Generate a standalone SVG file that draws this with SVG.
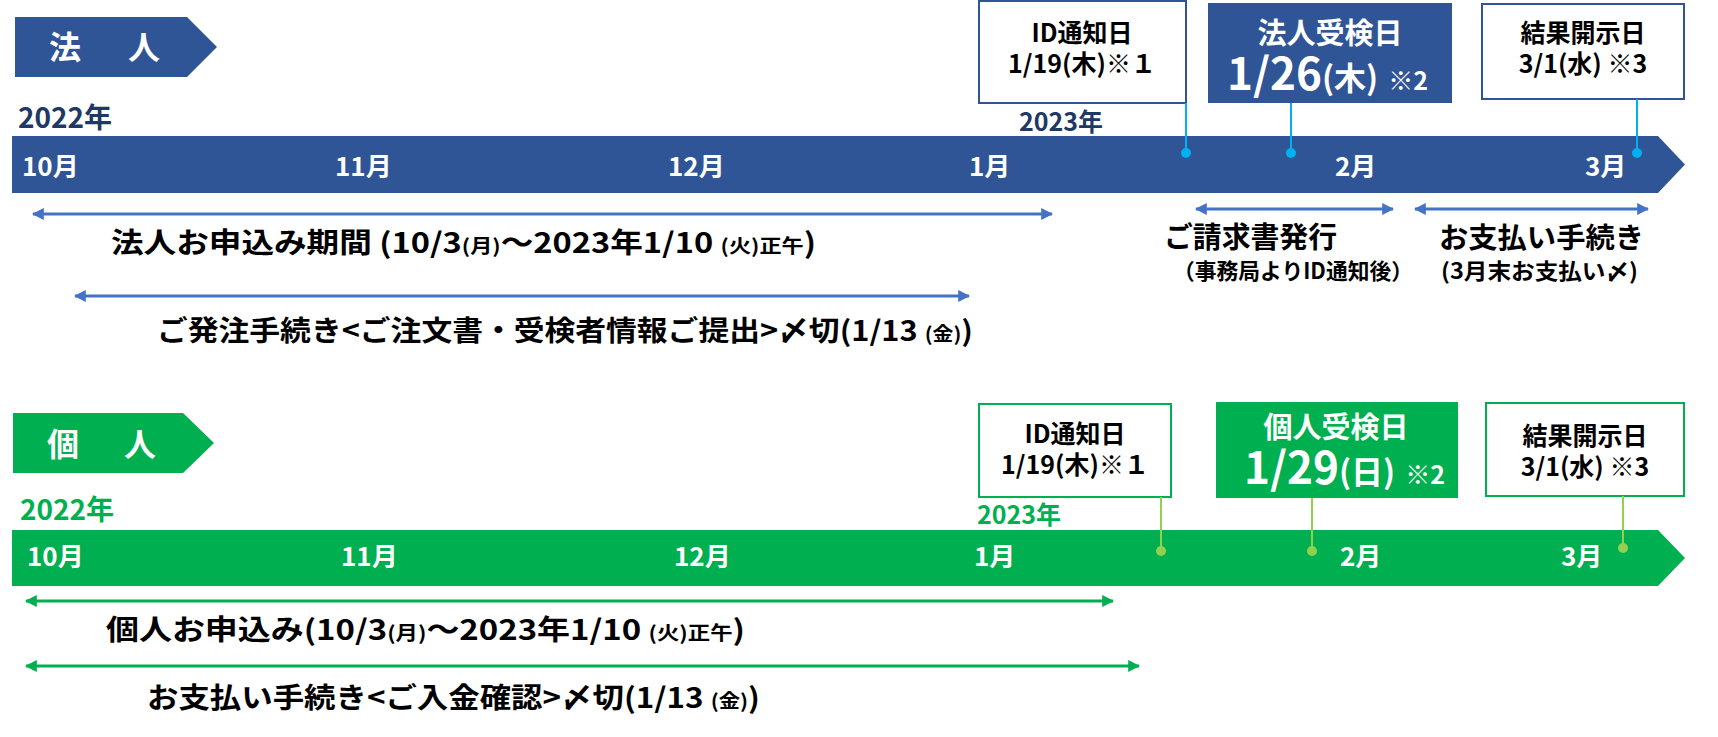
<svg xmlns="http://www.w3.org/2000/svg" width="1718" height="737" viewBox="0 0 1718 737">
<defs>
<marker id="ab" viewBox="0 0 10 10" refX="9" refY="5" markerWidth="4" markerHeight="4" orient="auto-start-reverse" markerUnits="strokeWidth"><path d="M0,0 L10,5 L0,10 z" fill="#4472C4"/></marker>
<marker id="ag" viewBox="0 0 10 10" refX="9" refY="5" markerWidth="4" markerHeight="4" orient="auto-start-reverse" markerUnits="strokeWidth"><path d="M0,0 L10,5 L0,10 z" fill="#00B050"/></marker>
<style>
text{font-family:"Noto Sans CJK JP","Liberation Sans",sans-serif;font-weight:bold}
.w{fill:#fff}
.k{fill:#000}
.m{fill:#fff;font-size:26px}
.blue{fill:#2F5597}
.green{fill:#00B050}
.bx{fill:#fff;stroke-width:2}
.lb{stroke:#4472C4;stroke-width:3;fill:none}
.lg{stroke:#00B050;stroke-width:3;fill:none}
.cb{stroke:#00B0F0;stroke-width:2}
.cg{stroke:#92D050;stroke-width:2}
.c{text-anchor:middle}
.bt{font-size:25px}
</style>
</defs>

<!-- 法人 section -->
<g id="houjin-banner">
<polygon class="blue" points="15,17 187,17 217,47 187,77 15,77"/>
<text class="w" x="49" y="59" font-size="32">法</text>
<text class="w" x="128" y="59" font-size="32">人</text>
</g>
<text x="18" y="128" font-size="28" fill="#203864">2022年</text>
<g id="houjin-bar">
<polygon class="blue" points="12,136 1658,136 1685,164.5 1658,193 12,193"/>
<text class="m" x="22" y="176">10月</text>
<text class="m" x="335" y="176">11月</text>
<text class="m" x="668" y="176">12月</text>
<text class="m" x="969" y="176">1月</text>
<text class="m" x="1335" y="176">2月</text>
<text class="m" x="1585" y="176">3月</text>
</g>
<text x="1019" y="131" font-size="25" fill="#203864">2023年</text>

<g id="houjin-id">
<rect class="bx" x="979" y="1" width="207" height="102" stroke="#2F5597"/>
<text class="k c bt" x="1082" y="42">ID通知日</text>
<text class="k c bt" x="1082" y="73">1/19(木)※１</text>
</g>
<g id="houjin-exam">
<rect class="blue" x="1208" y="3" width="244" height="100"/>
<text class="w c" x="1330" y="44" font-size="29">法人受検日</text>
<text class="w" x="1227" y="90"><tspan font-size="44">1/26</tspan><tspan font-size="32">(木)</tspan><tspan font-size="25" dx="10">※2</tspan></text>
</g>
<g id="houjin-result">
<rect class="bx" x="1482" y="4" width="202" height="95" stroke="#2F5597"/>
<text class="k c bt" x="1583" y="42">結果開示日</text>
<text class="k c bt" x="1583" y="73">3/1(水) ※3</text>
</g>

<g id="houjin-connectors">
<line class="cb" x1="1186" y1="103" x2="1186" y2="153"/>
<circle cx="1186" cy="153" r="5" fill="#00B0F0"/>
<line class="cb" x1="1291" y1="103" x2="1291" y2="153"/>
<circle cx="1291" cy="153" r="5" fill="#00B0F0"/>
<line class="cb" x1="1637" y1="99" x2="1637" y2="153"/>
<circle cx="1637" cy="153" r="5" fill="#00B0F0"/>
<line class="lb" x1="33" y1="214" x2="1052" y2="214" marker-start="url(#ab)" marker-end="url(#ab)"/>
<line class="lb" x1="75" y1="296" x2="969" y2="296" marker-start="url(#ab)" marker-end="url(#ab)"/>
<line class="lb" x1="1196" y1="209" x2="1393" y2="209" marker-start="url(#ab)" marker-end="url(#ab)"/>
<line class="lb" x1="1415" y1="209" x2="1648" y2="209" marker-start="url(#ab)" marker-end="url(#ab)"/>
</g>

<g id="houjin-labels">
<text class="k" x="111" y="253" font-size="28" textLength="705" lengthAdjust="spacingAndGlyphs">法人お申込み期間 (10/3<tspan font-size="19">(月)</tspan>～2023年1/10 <tspan font-size="19">(火)正午</tspan>)</text>
<text class="k" x="157" y="341" font-size="28" textLength="816" lengthAdjust="spacingAndGlyphs">ご発注手続き&lt;ご注文書・受検者情報ご提出&gt;〆切(1/13 <tspan font-size="19">(金)</tspan>)</text>
<text class="k" x="1164" y="248" font-size="29" textLength="173" lengthAdjust="spacingAndGlyphs">ご請求書発行</text>
<text class="k" x="1173" y="279" font-size="22" textLength="240" lengthAdjust="spacingAndGlyphs">（事務局よりID通知後）</text>
<text class="k" x="1439" y="248" font-size="28" textLength="205" lengthAdjust="spacingAndGlyphs">お支払い手続き</text>
<text class="k" x="1441" y="279" font-size="22" textLength="197" lengthAdjust="spacingAndGlyphs">(3月末お支払い〆)</text>
</g>

<!-- 個人 section -->
<g id="kojin-banner">
<polygon class="green" points="13,413 183,413 214,443 183,473 13,473"/>
<text class="w" x="47" y="456" font-size="32">個</text>
<text class="w" x="124" y="456" font-size="32">人</text>
</g>
<text x="20" y="520" font-size="28" fill="#00B050">2022年</text>
<g id="kojin-bar">
<polygon class="green" points="12,530 1658,530 1685,558 1658,586 12,586"/>
<text class="m" x="27" y="566">10月</text>
<text class="m" x="341" y="566">11月</text>
<text class="m" x="674" y="566">12月</text>
<text class="m" x="974" y="566">1月</text>
<text class="m" x="1340" y="566">2月</text>
<text class="m" x="1561" y="566">3月</text>
</g>
<text x="977" y="524" font-size="25" fill="#00B050">2023年</text>

<g id="kojin-id">
<rect class="bx" x="979" y="404" width="192" height="93" stroke="#00B050"/>
<text class="k c bt" x="1075" y="443">ID通知日</text>
<text class="k c bt" x="1075" y="474">1/19(木)※１</text>
</g>
<g id="kojin-exam">
<rect class="green" x="1216" y="402" width="242" height="96"/>
<text class="w c" x="1336" y="438" font-size="29">個人受検日</text>
<text class="w" x="1244" y="484"><tspan font-size="44">1/29</tspan><tspan font-size="32">(日)</tspan><tspan font-size="25" dx="10">※2</tspan></text>
</g>
<g id="kojin-result">
<rect class="bx" x="1486" y="403" width="198" height="93" stroke="#00B050"/>
<text class="k c bt" x="1585" y="445">結果開示日</text>
<text class="k c bt" x="1585" y="476">3/1(水) ※3</text>
</g>

<g id="kojin-connectors">
<line class="cg" x1="1161" y1="497" x2="1161" y2="551"/>
<circle cx="1161" cy="551" r="5" fill="#92D050"/>
<line class="cg" x1="1312" y1="498" x2="1312" y2="551"/>
<circle cx="1312" cy="551" r="5" fill="#92D050"/>
<line class="cg" x1="1623" y1="496" x2="1623" y2="548"/>
<circle cx="1623" cy="548" r="5" fill="#92D050"/>
<line class="lg" x1="26" y1="601" x2="1113" y2="601" marker-start="url(#ag)" marker-end="url(#ag)"/>
<line class="lg" x1="26" y1="666" x2="1139" y2="666" marker-start="url(#ag)" marker-end="url(#ag)"/>
</g>

<g id="kojin-labels">
<text class="k" x="106" y="640" font-size="28" textLength="639" lengthAdjust="spacingAndGlyphs">個人お申込み(10/3<tspan font-size="19">(月)</tspan>～2023年1/10 <tspan font-size="19">(火)正午</tspan>)</text>
<text class="k" x="147" y="708" font-size="28" textLength="613" lengthAdjust="spacingAndGlyphs">お支払い手続き&lt;ご入金確認&gt;〆切(1/13 <tspan font-size="19">(金)</tspan>)</text>
</g>
</svg>
